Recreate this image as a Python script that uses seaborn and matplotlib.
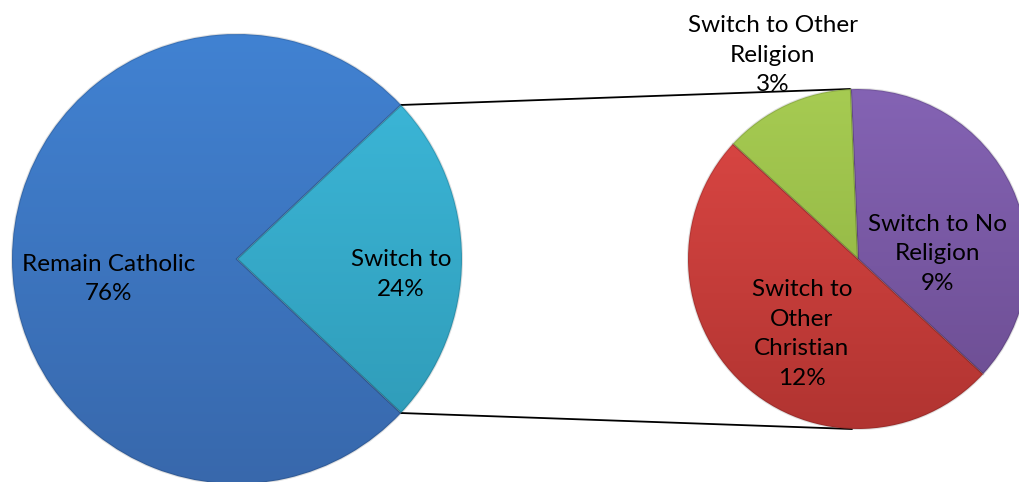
import numpy as np
import matplotlib.pyplot as plt
import seaborn as sns
from matplotlib.colors import LinearSegmentedColormap

# 데이터: 가톨릭 유지 vs 이탈, 이탈의 세부 구성
main_labels = ["Switch to", "Remain Catholic"]
main_values = [24, 76]
main_pct = ["24%", "76%"]

sub_labels = ["Switch to No\nReligion", "Switch to Other\nReligion", "Switch to\nOther\nChristian"]
sub_values = [9, 3, 12]
sub_pct = ["9%", "3%", "12%"]

# 색상 (위 밝게 -> 아래 어둡게)
main_colors = [("#3dbadc", "#2e98b4"), ("#4182d2", "#3868ac")]
sub_colors = [("#8463b4", "#6b4c90"), ("#a6cb52", "#8aad3e"), ("#de4845", "#b13431")]

sns.set_theme(style="white")
plt.rcParams["font.family"] = ["Lato", "DejaVu Sans"]

W, H = 1019, 482
fig = plt.figure(figsize=(W / 100, H / 100), dpi=100)
ax = fig.add_axes([0, 0, 1, 1])

c1, r1 = (237, 223), 225
c2, r2 = (858, 223), 170
start1 = -(main_values[0] / sum(main_values) * 360) / 2
start2 = -42.6


def shade(wedges, colors, center, r):
    grad = np.linspace(0, 1, 256).reshape(-1, 1)
    for w, (top, bottom) in zip(wedges, colors):
        cmap = LinearSegmentedColormap.from_list("g", [top, bottom])
        im = ax.imshow(grad, cmap=cmap, aspect="auto", origin="upper",
                       extent=[center[0] - r, center[0] + r, center[1] - r, center[1] + r],
                       zorder=2)
        im.set_clip_path(w)
        # 가장자리 살짝 어둡게
        w.set_edgecolor((0, 0, 0, 0.12))
        w.set_linewidth(1.5)
        w.set_zorder(3)
        w.set_facecolor("none")


w1, _ = ax.pie(main_values, center=c1, radius=r1, startangle=start1,
               colors=[c[0] for c in main_colors], frame=True)
w2, _ = ax.pie(sub_values, center=c2, radius=r2, startangle=start2,
               colors=[c[0] for c in sub_colors], frame=True)
ax.set_xlim(0, W)
ax.set_ylim(0, H)
ax.set_aspect("equal")
ax.axis("off")
shade(w1, main_colors, c1, r1)
shade(w2, sub_colors, c2, r2)

# 연결선
a = np.deg2rad(w1[0].theta2)
b = np.deg2rad(w1[0].theta1)
ax.plot([c1[0] + r1 * np.cos(a), c2[0] - 8], [c1[1] + r1 * np.sin(a), c2[1] + r2],
        color="black", lw=1.3, zorder=1)
ax.plot([c1[0] + r1 * np.cos(b), c2[0] - 6], [c1[1] + r1 * np.sin(b), c2[1] - r2],
        color="black", lw=1.3, zorder=1)

fs = 17.5
lbl = dict(ha="center", va="center", fontsize=fs, color="black", zorder=5, linespacing=1.5)
offs1 = [(0.73, -0.07), (-0.57, -0.09)]
for name, pct, (dx, dy) in zip(main_labels, main_pct, offs1):
    ax.text(c1[0] + dx * r1, c1[1] + dy * r1, f"{name}\n{pct}", **lbl)

offs2 = [(0.47, 0.03), (-0.5, 1.2), (-0.33, -0.44)]
for name, pct, (dx, dy) in zip(sub_labels, sub_pct, offs2):
    ax.text(c2[0] + dx * r2, c2[1] + dy * r2, f"{name}\n{pct}", **lbl)

plt.savefig("out.png", dpi=100)
